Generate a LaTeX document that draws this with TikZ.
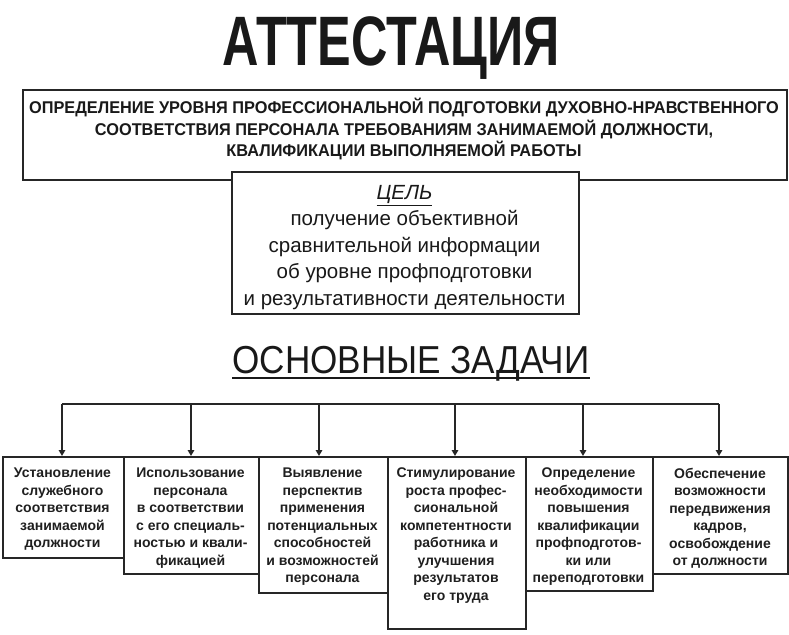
\documentclass[tikz,border=0pt]{standalone}
\usepackage{fontspec}
\setmainfont{Liberation Sans}
\newfontfamily\titlefont{Liberation Sans}[FakeStretch=0.72]
\newfontfamily\capsfont{Liberation Sans}[FakeStretch=0.96]
\newfontfamily\headfont{Liberation Sans}[FakeStretch=0.9]
\usetikzlibrary{arrows.meta}
\tikzset{
  frame/.style={draw=black!85, line width=1.5pt, fill=white, inner sep=0pt, anchor=north west},
  tasktext/.style={anchor=north, inner sep=0pt, align=center, text=black!88,
    font=\bfseries\fontsize{14}{17.5}\selectfont},
  link/.style={draw=black!85, line width=1.5pt},
  arr/.style={link, -{Triangle[length=6pt,width=6.5pt]}},
}
\begin{document}
\begin{tikzpicture}[x=1pt,y=-1pt]
\useasboundingbox (0,0) rectangle (789,634);
\fill[white] (0,0) rectangle (789,634);

% title
\node[anchor=base, inner sep=0pt, text=black!90,
  font=\titlefont\bfseries\fontsize{70}{70}\selectfont] (title) at (391,65) {АТТЕСТАЦИЯ};

% definition box
\node[frame, minimum width=764pt, minimum height=90pt] (defbox) at (22,89) {};
\node[anchor=north, inner sep=0pt, align=center, text=black!90,
  font=\capsfont\bfseries\fontsize{17}{21.5}\selectfont] (deftext) at (404,98)
  {ОПРЕДЕЛЕНИЕ УРОВНЯ ПРОФЕССИОНАЛЬНОЙ ПОДГОТОВКИ ДУХОВНО-НРАВСТВЕННОГО\\
   СООТВЕТСТВИЯ ПЕРСОНАЛА ТРЕБОВАНИЯМ ЗАНИМАЕМОЙ ДОЛЖНОСТИ,\\
   КВАЛИФИКАЦИИ ВЫПОЛНЯЕМОЙ РАБОТЫ};

% goal box
\node[frame, minimum width=347pt, minimum height=142pt] (goalbox) at (231,171) {};
\node[anchor=north, inner sep=0pt, align=center, text=black!90,
  font=\fontsize{20.5}{26.5}\selectfont] (goaltext) at (404.5,185)
  {\underline{\textit{ЦЕЛЬ}}\\
   получение объективной\\
   сравнительной информации\\
   об уровне профподготовки\\
   и результативности деятельности};

% heading
\node[anchor=base, inner sep=0pt, text=black!90,
  font=\headfont\fontsize{39}{39}\selectfont] (tasks) at (411,373) {ОСНОВНЫЕ ЗАДАЧИ};
\draw[line width=2.5pt, black!90] (tasks.base west) ++(0,5) coordinate (ul1) -- (ul1 -| tasks.base east);

% task boxes
\node[frame, minimum width=121pt, minimum height=101pt] (t1) at (2,456) {};
\node[frame, minimum width=135pt, minimum height=117pt] (t2) at (123,456) {};
\node[frame, minimum width=129pt, minimum height=136pt] (t3) at (258,456) {};
\node[frame, minimum width=138pt, minimum height=172pt] (t4) at (387,456) {};
\node[frame, minimum width=127pt, minimum height=134pt] (t5) at (525,456) {};
\node[frame, minimum width=135pt, minimum height=117pt] (t6) at (652,456) {};

\node[tasktext] (x1) at (62.5,468) {Установление\\служебного\\соответствия\\занимаемой\\должности};
\node[tasktext] (x2) at (190.5,468) {Использование\\персонала\\в соответствии\\с его специаль-\\ностью и квали-\\фикацией};
\node[tasktext] (x3) at (322.5,468) {Выявление\\перспектив\\применения\\потенциальных\\способностей\\и возможностей\\персонала};
\node[tasktext] (x4) at (456,468) {Стимулирование\\роста профес-\\сиональной\\компетентности\\работника и\\улучшения\\результатов\\его труда};
\node[tasktext] (x5) at (588.5,468) {Определение\\необходимости\\повышения\\квалификации\\профподготов-\\ки или\\переподготовки};
\node[tasktext] (x6) at (720,468) {Обеспечение\\возможности\\передвижения\\кадров,\\освобождение\\от должности};

% bus and arrows
\coordinate (b1) at (62,404);
\coordinate (b2) at (191,404);
\coordinate (b3) at (319,404);
\coordinate (b4) at (455,404);
\coordinate (b5) at (583,404);
\coordinate (b6) at (719,404);
\draw[link] (b1) -- (b6);
\draw[arr] (b1) -- (b1 |- t1.north);
\draw[arr] (b2) -- (b2 |- t2.north);
\draw[arr] (b3) -- (b3 |- t3.north);
\draw[arr] (b4) -- (b4 |- t4.north);
\draw[arr] (b5) -- (b5 |- t5.north);
\draw[arr] (b6) -- (b6 |- t6.north);
\end{tikzpicture}
\end{document}
